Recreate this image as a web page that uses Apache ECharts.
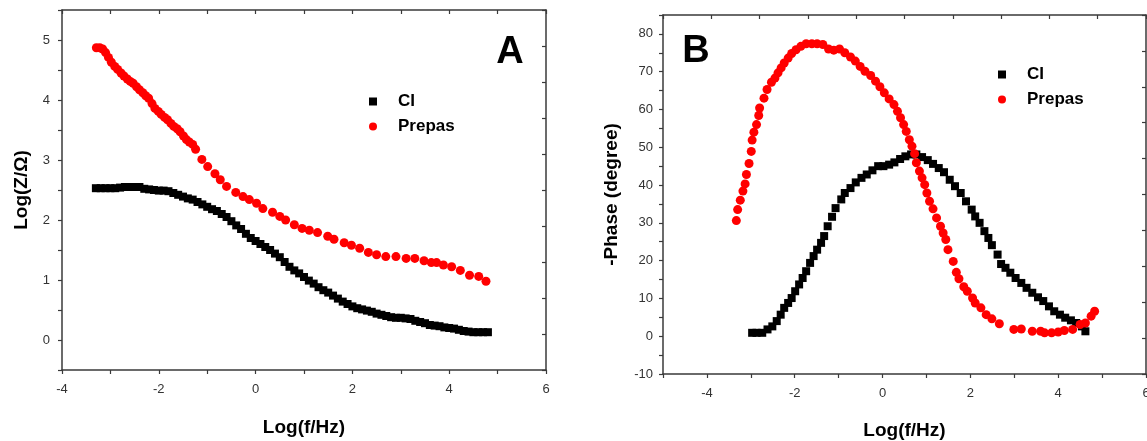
<!DOCTYPE html>
<html>
<head>
<meta charset="utf-8">
<script src="https://cdn.jsdelivr.net/npm/echarts@6/dist/echarts.min.js"></script>
<style>
  html, body { margin: 0; padding: 0; background: #fff; }
  #main { width: 1147px; height: 441px; }
</style>
</head>
<body>
<div id="main"></div>
<script>
// Panel A: Log|Z| vs Log(f)
var impFreqCl = [-3.3, -3.2, -3.1, -3.0, -2.9, -2.8, -2.7, -2.6, -2.5, -2.4, -2.3, -2.2, -2.1, -2.0, -1.9, -1.8, -1.7, -1.6, -1.5, -1.4, -1.3, -1.2, -1.1, -1.0, -0.9, -0.8, -0.7, -0.6, -0.5, -0.4, -0.3, -0.2, -0.1, 0.0, 0.1, 0.2, 0.3, 0.4, 0.5, 0.6, 0.7, 0.8, 0.9, 1.0, 1.1, 1.2, 1.3, 1.4, 1.5, 1.6, 1.7, 1.8, 1.9, 2.0, 2.1, 2.2, 2.3, 2.4, 2.5, 2.6, 2.7, 2.8, 2.9, 3.0, 3.1, 3.2, 3.3, 3.4, 3.5, 3.6, 3.7, 3.8, 3.9, 4.0, 4.1, 4.2, 4.3, 4.4, 4.5, 4.6, 4.7, 4.8];
var impCl = [2.53, 2.53, 2.53, 2.53, 2.53, 2.54, 2.55, 2.55, 2.55, 2.55, 2.52, 2.51, 2.50, 2.49, 2.49, 2.48, 2.45, 2.42, 2.39, 2.36, 2.34, 2.30, 2.26, 2.22, 2.18, 2.15, 2.10, 2.05, 1.98, 1.91, 1.85, 1.77, 1.70, 1.65, 1.60, 1.55, 1.50, 1.44, 1.38, 1.30, 1.22, 1.16, 1.11, 1.05, 0.99, 0.94, 0.88, 0.83, 0.79, 0.74, 0.69, 0.64, 0.60, 0.56, 0.53, 0.51, 0.49, 0.47, 0.44, 0.42, 0.40, 0.38, 0.37, 0.37, 0.36, 0.35, 0.32, 0.30, 0.28, 0.25, 0.24, 0.23, 0.21, 0.20, 0.19, 0.17, 0.15, 0.14, 0.13, 0.13, 0.13, 0.13];
var impFreqPrepas = [-3.29, -3.22, -3.16, -3.1, -3.04, -2.98, -2.91, -2.85, -2.78, -2.72, -2.65, -2.59, -2.53, -2.46, -2.4, -2.33, -2.27, -2.21, -2.14, -2.08, -2.01, -1.95, -1.88, -1.82, -1.75, -1.69, -1.62, -1.56, -1.49, -1.43, -1.37, -1.3, -1.24, -1.11, -0.99, -0.84, -0.73, -0.6, -0.41, -0.26, -0.13, 0.02, 0.15, 0.35, 0.5, 0.62, 0.8, 0.96, 1.11, 1.28, 1.49, 1.62, 1.83, 1.98, 2.15, 2.33, 2.5, 2.69, 2.9, 3.11, 3.29, 3.48, 3.63, 3.74, 3.88, 4.05, 4.23, 4.42, 4.61, 4.76];
var impPrepas = [4.87, 4.87, 4.85, 4.79, 4.71, 4.63, 4.56, 4.51, 4.45, 4.40, 4.35, 4.31, 4.28, 4.22, 4.17, 4.12, 4.07, 4.03, 3.94, 3.86, 3.81, 3.76, 3.71, 3.67, 3.61, 3.56, 3.52, 3.47, 3.40, 3.34, 3.30, 3.26, 3.18, 3.01, 2.89, 2.77, 2.67, 2.56, 2.46, 2.39, 2.34, 2.28, 2.19, 2.13, 2.06, 2.00, 1.92, 1.86, 1.83, 1.79, 1.73, 1.68, 1.62, 1.58, 1.53, 1.46, 1.42, 1.39, 1.39, 1.36, 1.36, 1.32, 1.29, 1.29, 1.25, 1.22, 1.16, 1.08, 1.06, 0.98];

// Panel B: -Phase vs Log(f)
var phaseFreqCl = [-2.97, -2.87, -2.74, -2.62, -2.51, -2.41, -2.32, -2.24, -2.15, -2.07, -1.99, -1.9, -1.82, -1.74, -1.65, -1.57, -1.49, -1.4, -1.33, -1.25, -1.15, -1.07, -0.94, -0.86, -0.73, -0.61, -0.48, -0.36, -0.23, -0.1, 0.02, 0.15, 0.27, 0.4, 0.52, 0.65, 0.77, 0.9, 1.03, 1.15, 1.28, 1.4, 1.53, 1.65, 1.78, 1.9, 2.03, 2.11, 2.21, 2.32, 2.41, 2.49, 2.62, 2.7, 2.8, 2.91, 3.03, 3.16, 3.28, 3.41, 3.54, 3.66, 3.79, 3.91, 4.04, 4.16, 4.29, 4.41, 4.54, 4.62];
var phaseCl = [0.9, 0.9, 0.9, 1.8, 2.6, 4.0, 5.7, 7.5, 8.8, 10.1, 11.9, 13.7, 15.4, 17.2, 19.4, 21.2, 22.9, 24.7, 26.5, 29.1, 31.6, 33.9, 36.2, 37.9, 39.2, 40.7, 41.9, 42.8, 43.9, 45.0, 45.0, 45.4, 46.0, 46.9, 47.6, 48.1, 48.1, 47.4, 46.6, 45.6, 44.5, 43.4, 41.4, 39.7, 37.9, 35.7, 33.5, 31.7, 30.0, 27.8, 26.0, 24.1, 21.6, 19.1, 18.1, 16.8, 15.4, 14.1, 12.8, 11.5, 10.3, 9.3, 7.9, 6.6, 5.7, 4.9, 4.2, 3.5, 2.6, 1.3];
var phaseFreqPrepas = [-3.33, -3.3, -3.24, -3.18, -3.13, -3.1, -3.04, -2.99, -2.97, -2.93, -2.87, -2.82, -2.8, -2.7, -2.63, -2.53, -2.45, -2.38, -2.31, -2.24, -2.15, -2.07, -1.97, -1.86, -1.74, -1.61, -1.49, -1.36, -1.23, -1.11, -0.98, -0.86, -0.73, -0.62, -0.51, -0.4, -0.27, -0.16, -0.06, 0.04, 0.15, 0.26, 0.34, 0.41, 0.48, 0.54, 0.61, 0.67, 0.73, 0.77, 0.84, 0.9, 0.96, 1.01, 1.07, 1.15, 1.23, 1.32, 1.38, 1.44, 1.49, 1.61, 1.68, 1.74, 1.85, 1.93, 2.05, 2.11, 2.24, 2.36, 2.49, 2.66, 2.99, 3.16, 3.41, 3.6, 3.69, 3.85, 4.0, 4.14, 4.33, 4.5, 4.62, 4.75, 4.83];
var phasePrepas = [30.6, 33.5, 36.0, 38.4, 40.3, 42.8, 45.7, 48.9, 51.9, 54.0, 56.0, 58.4, 60.4, 63.0, 65.3, 67.2, 68.3, 69.7, 71.0, 72.3, 73.6, 74.8, 75.8, 76.7, 77.4, 77.4, 77.4, 77.2, 76.0, 75.7, 76.0, 75.0, 73.9, 72.8, 71.4, 70.1, 69.0, 67.5, 66.0, 64.4, 62.8, 61.3, 59.5, 57.8, 56.0, 54.2, 52.0, 50.3, 48.3, 45.9, 43.7, 41.9, 40.1, 37.9, 35.7, 33.7, 31.3, 29.1, 27.3, 25.6, 22.9, 19.8, 16.9, 15.2, 13.1, 11.9, 10.1, 8.8, 7.5, 5.7, 4.6, 3.3, 1.8, 1.9, 1.3, 1.3, 0.9, 0.9, 1.1, 1.5, 1.8, 3.1, 3.5, 5.3, 6.6];

var seriesNames = ['CI', 'Prepas'];
var panelLetters = ['A', 'B'];

var FONT = 'Liberation Sans, Arial, sans-serif';
var AXIS_COLOR = '#3a3a3a';

function pairs(xs, ys) {
  return xs.map(function (x, i) { return [x, ys[i]]; });
}

// bottom/left axes carry the labels, top/right ones are only the box with inward ticks
function labelAxis(gridIndex, min, max, interval, everyLabel, name, nameGap, rotate, margin) {
  return {
    type: 'value',
    gridIndex: gridIndex,
    min: min,
    max: max,
    interval: interval,
    name: name,
    nameLocation: 'middle',
    nameGap: nameGap,
    nameRotate: rotate,
    nameTextStyle: { fontFamily: FONT, fontSize: 19, fontWeight: 'bold', color: '#000' },
    splitLine: { show: false },
    axisLine: { onZero: false, lineStyle: { color: AXIS_COLOR, width: 1.5 } },
    axisTick: { inside: false, length: 4, lineStyle: { color: AXIS_COLOR, width: 1.2 } },
    axisLabel: {
      margin: margin,
      fontFamily: FONT,
      fontSize: 13,
      color: '#333',
      showMinLabel: true,
      showMaxLabel: true,
      formatter: function (v) {
        var r = Math.round(v / everyLabel) * everyLabel;
        return Math.abs(r - v) < 1e-6 ? String(Math.round(v)) : '';
      }
    }
  };
}

function boxAxis(gridIndex, position) {
  return {
    type: 'value',
    gridIndex: gridIndex,
    position: position,
    min: 0,
    max: 10,
    interval: 1,
    splitLine: { show: false },
    axisLine: { onZero: false, lineStyle: { color: AXIS_COLOR, width: 1.5 } },
    axisTick: { inside: true, length: 4, lineStyle: { color: AXIS_COLOR, width: 1.2 } },
    axisLabel: { show: false }
  };
}

var chart = echarts.init(document.getElementById('main'), null, { renderer: 'canvas' });

var xA = labelAxis(0, -4, 6, 1, 2, 'Log(f/Hz)', 48, 0, 13);
xA.position = 'bottom';
var xATop = boxAxis(0, 'top');
xATop.min = -4; xATop.max = 6;
var xB = labelAxis(1, -5, 6, 1, 2, 'Log(f/Hz)', 47, 0, 13);
xB.position = 'bottom';
var xBTop = boxAxis(1, 'top');

var yA = labelAxis(0, -0.5, 5.5, 0.5, 1, 'Log(Z/Ω)', 31, 90, 12);
yA.position = 'left';
var yARight = boxAxis(0, 'right');
var yB = labelAxis(1, -10, 85, 5, 10, '-Phase (degree)', 42, 90, 10);
yB.position = 'left';
var yBRight = boxAxis(1, 'right');

function legendAt(left, top, pad) {
  return {
    orient: 'vertical',
    left: left,
    top: top,
    itemWidth: 8,
    itemHeight: 8,
    itemGap: 8,
    selectedMode: false,
    data: [{ name: seriesNames[0], icon: 'rect' }, { name: seriesNames[1], icon: 'circle' }],
    textStyle: { fontFamily: FONT, fontSize: 17, fontWeight: 'bold', color: '#000', padding: [0, 0, 0, pad] }
  };
}

var option = {
  animation: false,
  backgroundColor: '#fff',
  grid: [
    { left: 62, top: 10, width: 484, height: 360, containLabel: false, outerBoundsMode: 'none' },
    { left: 663, top: 15, width: 483, height: 359, containLabel: false, outerBoundsMode: 'none' }
  ],
  xAxis: [xA, xATop, xB, xBTop],
  yAxis: [yA, yARight, yB, yBRight],
  legend: [legendAt(364, 88, 16), legendAt(993, 61, 16)],
  graphic: [
    { type: 'text', x: 510, y: 53, style: { text: panelLetters[0], font: 'bold 38px ' + FONT, fill: '#000', textAlign: 'center', textVerticalAlign: 'middle' } },
    { type: 'text', x: 696, y: 52, style: { text: panelLetters[1], font: 'bold 38px ' + FONT, fill: '#000', textAlign: 'center', textVerticalAlign: 'middle' } }
  ],
  series: [
    {
      name: seriesNames[0], type: 'scatter', xAxisIndex: 0, yAxisIndex: 0,
      symbol: 'rect', symbolSize: 8, itemStyle: { color: '#000', opacity: 1 },
      data: pairs(impFreqCl, impCl)
    },
    {
      name: seriesNames[1], type: 'scatter', xAxisIndex: 0, yAxisIndex: 0,
      symbol: 'circle', symbolSize: 9, itemStyle: { color: '#ff0000', opacity: 1 },
      data: pairs(impFreqPrepas, impPrepas)
    },
    {
      name: seriesNames[0], type: 'scatter', xAxisIndex: 2, yAxisIndex: 2,
      symbol: 'rect', symbolSize: 8, itemStyle: { color: '#000', opacity: 1 },
      data: pairs(phaseFreqCl, phaseCl)
    },
    {
      name: seriesNames[1], type: 'scatter', xAxisIndex: 2, yAxisIndex: 2,
      symbol: 'circle', symbolSize: 9, itemStyle: { color: '#ff0000', opacity: 1 },
      data: pairs(phaseFreqPrepas, phasePrepas)
    }
  ]
};

chart.setOption(option);
</script>
</body>
</html>
